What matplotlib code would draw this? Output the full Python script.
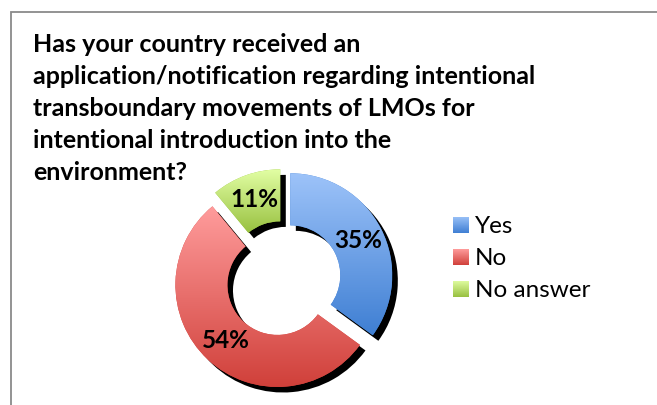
import numpy as np
import matplotlib
matplotlib.use("Agg")
import matplotlib.pyplot as plt
from matplotlib.patches import Rectangle
from matplotlib import patheffects as pe
from matplotlib.colors import LinearSegmentedColormap

# ---- data -------------------------------------------------------------
labels = ["Yes", "No", "No answer"]
shares = [35, 54, 11]
title_lines = [
    "Has your country received an",
    "application/notification regarding intentional",
    "transboundary movements of LMOs for",
    "intentional introduction into the",
    "environment?",
]
top_colors = ["#9DC3F9", "#FF9C9C", "#E2FFA4"]
bottom_colors = ["#3F7FD3", "#D0403A", "#98C040"]

# ---- figure -----------------------------------------------------------
W, H, DPI = 657, 405, 100
fig = plt.figure(figsize=(W / DPI, H / DPI), dpi=DPI)
fig.patch.set_facecolor("white")
FONT = "Lato"


def fx(x):
    return x / W


def fy(y):
    return 1 - y / H


# chart-area frame (runs off the right and bottom edges)
fig.add_artist(Rectangle((fx(11), -0.2), 1.2, fy(12) + 0.2,
                         transform=fig.transFigure, fill=False,
                         edgecolor="#8a8a8a", linewidth=1.3))

# title, left aligned, one text per line
for i, line in enumerate(title_lines):
    fig.text(fx(33), fy(52 + 32 * i), line, family=FONT, fontweight="bold",
             fontsize=18, va="baseline", ha="left", color="black")

# ---- doughnut ---------------------------------------------------------
R_PX = 102
CX, CY = 283, 279
LIM = 1.4
side = 2 * LIM * R_PX
ax = fig.add_axes([fx(CX - side / 2), fy(CY + side / 2), side / W, side / H])

wedges, _, autotexts = ax.pie(
    shares, explode=[0.08] * len(shares), startangle=90, counterclock=False,
    radius=1, wedgeprops=dict(width=0.51, linewidth=0),
    autopct=lambda p: f"{p:.0f}%", pctdistance=0.745,
    textprops=dict(family=FONT, fontweight="bold", fontsize=17.5,
                   color="black"))

grad = np.linspace(0, 1, 256).reshape(-1, 1)
for w, top, bot in zip(wedges, top_colors, bottom_colors):
    w.set_facecolor(bot)
    w.set_path_effects([pe.SimplePatchShadow(offset=(4, -4),
                                             shadow_rgbFace="black",
                                             alpha=1.0),
                        pe.Normal()])
    bb = w.get_path().get_extents()
    cmap = LinearSegmentedColormap.from_list("g", [bot, top])
    ax.imshow(grad, cmap=cmap, origin="lower", aspect="auto",
              extent=[bb.x0, bb.x1, bb.y0, bb.y1], clip_path=w,
              interpolation="bilinear", zorder=2)

for t in autotexts:
    t.set_zorder(4)

ax.set_xlim(-LIM, LIM)
ax.set_ylim(-LIM, LIM)
ax.axis("off")

# ---- legend -----------------------------------------------------------
for i, (lab, top, bot) in enumerate(zip(labels, top_colors, bottom_colors)):
    base = 233 + 32 * i
    lax = fig.add_axes([fx(453), fy(base), 16 / W, 16 / H])
    cmap = LinearSegmentedColormap.from_list("g", [bot, top])
    lax.imshow(grad, cmap=cmap, origin="lower", aspect="auto",
               extent=[0, 1, 0, 1], interpolation="bilinear")
    lax.axis("off")
    fig.text(fx(475), fy(base), lab, family=FONT, fontsize=17.5,
             va="baseline", ha="left", color="black")

fig.savefig("out.png", dpi=DPI, facecolor="white")
